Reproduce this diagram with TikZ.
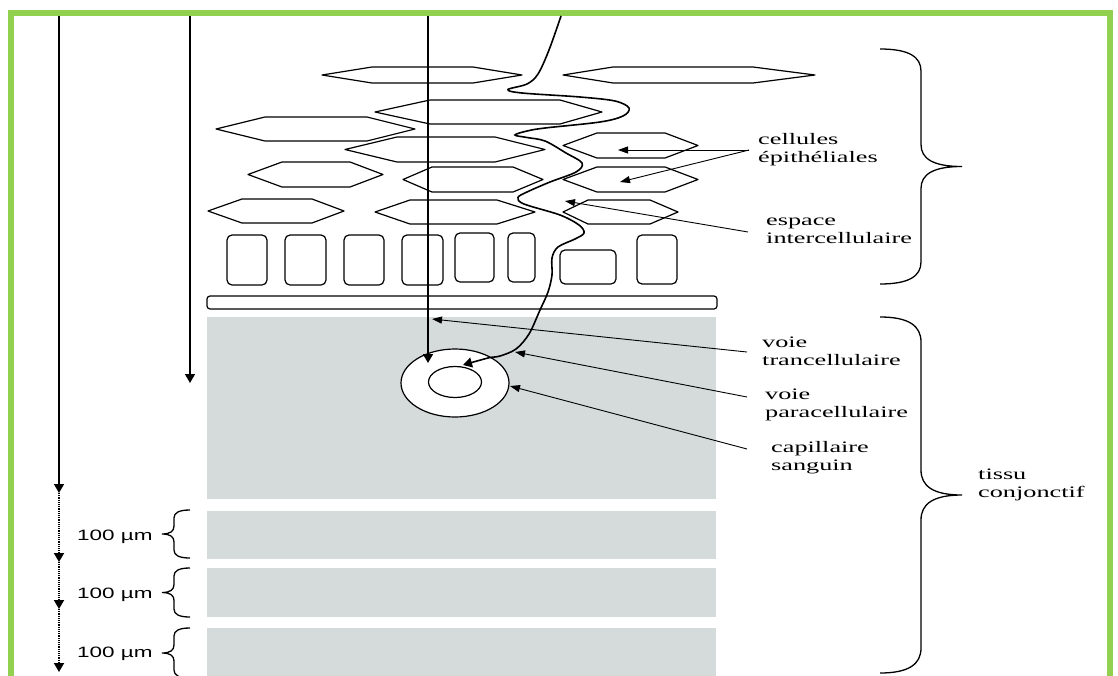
\documentclass[tikz,border=0pt]{standalone}
\usepackage{fontspec}
\usepackage{graphicx}
\setmainfont{Liberation Serif}
\newfontfamily\labsans{Liberation Sans}
\usetikzlibrary{arrows.meta}

\definecolor{framegreen}{RGB}{146,208,80}
\definecolor{tissuegray}{RGB}{212,219,218}

% two-line label, stretched horizontally
\newcommand{\twoline}[2]{\scalebox{1.64}[1]{\begin{tabular}[t]{@{}l@{}}#1\\#2\end{tabular}}}
% thickness label of a tissue slice
\newcommand{\slicelabel}{\scalebox{1.5}[1]{\labsans\fontsize{15}{18}\selectfont 100 µm}}

% hexagonal cell: left x, top-left x, top-right x, right x, top y, bottom y
\newcommand{\hexcell}[6]{\draw[cell] (#1,{(#5+#6)/2}) -- (#2,#5) -- (#3,#5) -- (#4,{(#5+#6)/2}) -- (#3,#6) -- (#2,#6) -- cycle;}

% curly brace: end x, spine x, tip x, top y, bottom y, bend length
\newcommand{\curlybrace}[6]{%
  \draw[bracepen] (#1,#4) .. controls ({#1+0.7*(#2-#1)},#4) and (#2,{#4+0.35*#6}) .. (#2,{#4+#6})
   -- (#2,{(#4+#5)/2-#6}) .. controls (#2,{(#4+#5)/2-0.35*#6}) and ({#2+0.3*(#3-#2)},{(#4+#5)/2}) .. (#3,{(#4+#5)/2})
   .. controls ({#2+0.3*(#3-#2)},{(#4+#5)/2}) and (#2,{(#4+#5)/2+0.35*#6}) .. (#2,{(#4+#5)/2+#6})
   -- (#2,{#5-#6}) .. controls (#2,{#5-0.35*#6}) and ({#1+0.7*(#2-#1)},#5) .. (#1,#5);}

\begin{document}
\begin{tikzpicture}[x=1pt,y=-1pt,
  cell/.style={draw=black, line width=1.2pt, line join=round},
  block/.style={draw=black, line width=1.2pt, rounded corners=5pt, fill=white},
  membrane/.style={draw=black, line width=1.2pt, rounded corners=3pt, fill=white},
  tissue/.style={fill=tissuegray},
  bracepen/.style={draw=black, line width=1.3pt},
  pathline/.style={draw=black, line width=1.6pt},
  bigarrow/.style={pathline, -{Triangle[length=9pt,width=10pt]}},
  dotline/.style={draw=black, line width=1.8pt, dash pattern=on 1.1pt off 1.1pt, -{Triangle[length=9pt,width=10pt]}},
  pointer/.style={draw=black, line width=0.9pt, -{Triangle[length=10pt,width=7pt]}},
  lbl/.style={anchor=base west, inner sep=0pt, font=\fontsize{16}{18}\selectfont},
  slbl/.style={anchor=base west, inner sep=0pt}
]
\useasboundingbox (0,0) rectangle (1118,675);
\clip (0,0) rectangle (1118,675);
\fill[white] (0,0) rectangle (1118,675);

% frame
\draw[framegreen, line width=6pt] (11,13) rectangle (1110,720);

% connective tissue and its slices
\fill[tissue] (207,317) rectangle (716,499);
\fill[tissue] (207,511) rectangle (716,559);
\fill[tissue] (207,568) rectangle (716,617);
\fill[tissue] (207,628) rectangle (716,690);

% basement membrane
\draw[membrane] (207,296) rectangle (717,309);

% basal cells
\draw[block] (227,235) rectangle (267,285);
\draw[block] (285,235) rectangle (326,285);
\draw[block] (344,235) rectangle (384,285);
\draw[block] (402,235) rectangle (443,285);
\draw[block] (455,233) rectangle (494,282);
\draw[block] (508,233) rectangle (535,282);
\draw[block] (560,250) rectangle (616,284);
\draw[block] (637,235) rectangle (677,284);

% flattened epithelial cells
\hexcell{322}{372}{473}{522}{67}{83}
\hexcell{563}{613}{753}{815}{67}{83}
\hexcell{375}{430}{560}{602}{100}{124}
\hexcell{216}{265}{367}{415}{117}{141}
\hexcell{345}{397}{495}{545}{137}{162}
\hexcell{563}{597}{665}{698}{133}{158}
\hexcell{248}{282}{350}{383}{162}{187}
\hexcell{403}{432}{513}{543}{167}{192}
\hexcell{563}{597}{665}{698}{167}{192}
\hexcell{208}{242}{312}{344}{199}{223}
\hexcell{375}{410}{497}{535}{200}{224}
\hexcell{563}{588}{650}{678}{200}{224}

% blood capillary: wall and lumen
\draw[black, line width=1.2pt, fill=white] (455,383) ellipse [x radius=54, y radius=34];
\draw[black, line width=1.2pt] (455,382) ellipse [x radius=26.5, y radius=15.5];

% penetration depth arrows
\coordinate (d0) at (59,16);
\coordinate (d1) at (59,493);
\coordinate (d2) at (59,562);
\coordinate (d3) at (59,609);
\coordinate (d4) at (59,672);
\draw[bigarrow] (d0) -- (d1);
\draw[dotline] (d1) -- (d2);
\draw[dotline] (d2) -- (d3);
\draw[dotline] (d3) -- (d4);
\coordinate (e0) at (190,16);
\coordinate (e1) at (190,383);
\draw[bigarrow] (e0) -- (e1);

% transcellular route
\coordinate (t0) at (428,16);
\coordinate (t1) at (428,363);
\draw[bigarrow] (t0) -- (t1);

% paracellular route
\draw[bigarrow] plot[smooth, tension=0.55] coordinates {
 (561,16) (549,50) (538,74) (527,84) (508,89.5) (522,93) (580,97) (615,101)
 (629,108) (623,116) (600,122) (545,128) (527,131) (515,135) (527,137.5)
 (545,141) (566,153) (582,163) (576,172) (550,182) (527,192) (518,197.5)
 (524,204) (560,215) (579,225) (584,233) (575,239) (558,247) (552,258)
 (552,275) (548,292) (540,310) (529,334) (516,349) (500,356) (488,358) (463,365)};

% labels
\node[lbl] (lcell) at (758,144) {\twoline{cellules}{épithéliales}};
\node[lbl] (lesp) at (766,225) {\twoline{espace}{intercellulaire}};
\node[lbl] (ltrans) at (762,347) {\twoline{voie}{trancellulaire}};
\node[lbl] (lpara) at (765,399) {\twoline{voie}{paracellulaire}};
\node[lbl] (lcap) at (771,452) {\twoline{capillaire}{sanguin}};
\node[lbl] (ltissu) at (978,479) {\twoline{tissu}{conjonctif}};

\node[slbl] (s1) at (77,540) {\slicelabel};
\node[slbl] (s2) at (77,598) {\slicelabel};
\node[slbl] (s3) at (77,657) {\slicelabel};

% label pointers
\coordinate (pc) at (749,150);
\draw[pointer] (pc) -- (618,150);
\draw[pointer] (pc) -- (620,182);
\draw[pointer] (748,232) -- (565,201);
\draw[pointer] (747,352) -- (432,319);
\draw[pointer] (747,397) -- (515,352);
\draw[pointer] (747,449) -- (510,386);

% braces
\curlybrace{880}{921}{962}{49}{284}{22}
\curlybrace{880}{921}{962}{317}{673}{25}
\curlybrace{190}{174}{162}{510}{558}{8}
\curlybrace{190}{174}{162}{568}{617}{8}
\curlybrace{190}{174}{162}{628}{678}{8}
\end{tikzpicture}
\end{document}
